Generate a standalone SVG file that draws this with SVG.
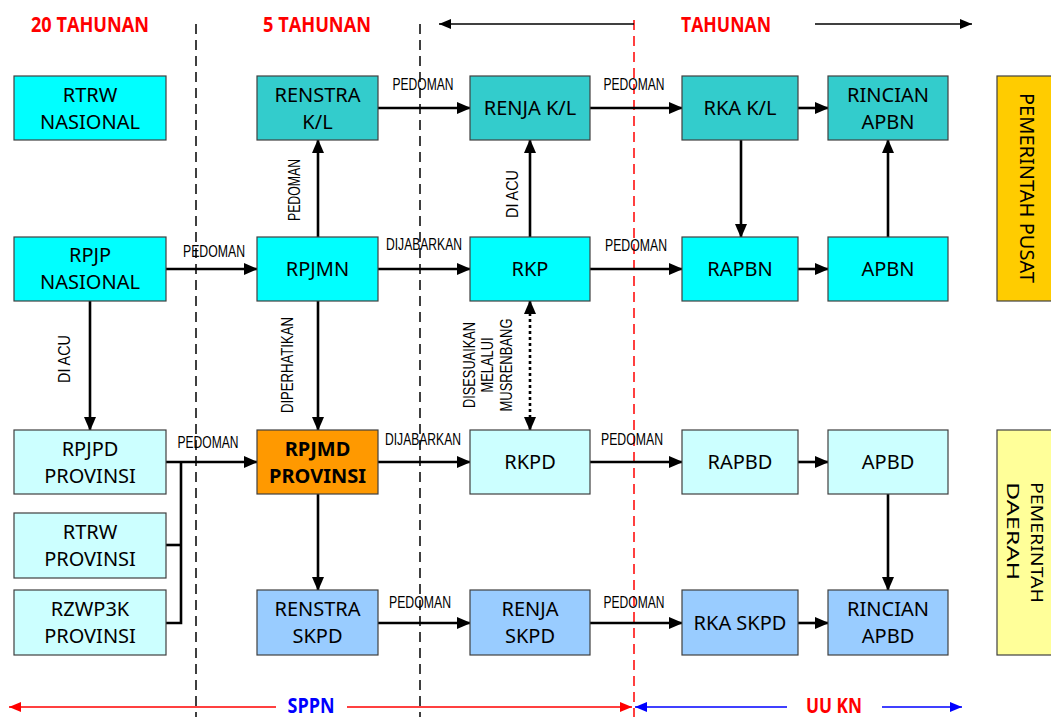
<svg xmlns="http://www.w3.org/2000/svg" width="1051" height="717" viewBox="0 0 1051 717">
<style>
.bx{stroke:#404040;stroke-width:1.2}
.c1{fill:#00FFFF}.c2{fill:#33CCCC}.c3{fill:#CCFFFF}.c4{fill:#FF9900}.c5{fill:#99CCFF}
.t{font-family:"Noto Sans","Open Sans",sans-serif;font-size:20px;fill:#000;text-anchor:middle}
.tb{font-weight:bold}
.lb{font-family:"Liberation Sans",Arial,sans-serif;font-size:16px;fill:#000;text-anchor:middle}
.hd{font-family:"Open Sans","Noto Sans",sans-serif;font-size:21px;font-weight:bold;text-anchor:middle}
.ar{stroke:#000;stroke-width:2.6;fill:none;marker-end:url(#ah)}
.ln{stroke:#000;stroke-width:2.6;fill:none}
.dl{stroke:#000;stroke-width:1.5;stroke-dasharray:10 6;fill:none}
</style>
<defs>
<marker id="ah" markerUnits="userSpaceOnUse" markerWidth="14" markerHeight="12" refX="13" refY="6" orient="auto-start-reverse"><path d="M0,0 L14,6 L0,12 z" fill="#000"/></marker>
<marker id="as" markerUnits="userSpaceOnUse" markerWidth="12" markerHeight="10" refX="12" refY="5" orient="auto-start-reverse"><path d="M0,0 L12,5 L0,10 z" fill="#000"/></marker>
<marker id="ar" markerUnits="userSpaceOnUse" markerWidth="12" markerHeight="10" refX="12" refY="5" orient="auto-start-reverse"><path d="M0,0 L12,5 L0,10 z" fill="#FF0000"/></marker>
<marker id="ab" markerUnits="userSpaceOnUse" markerWidth="12" markerHeight="10" refX="12" refY="5" orient="auto-start-reverse"><path d="M0,0 L12,5 L0,10 z" fill="#0000FF"/></marker>
</defs>
<rect width="1051" height="717" fill="#FFFFFF"/>

<g id="guides">
<line class="dl" x1="196" y1="24" x2="196" y2="717"/>
<line class="dl" x1="420" y1="24" x2="420" y2="717"/>
<line x1="634" y1="20" x2="634" y2="717" stroke="#FF0000" stroke-width="1.5" stroke-dasharray="10 6"/>
<line x1="634" y1="24" x2="439" y2="24" stroke="#000" stroke-width="1.5" marker-end="url(#as)"/>
<line x1="815" y1="24" x2="972" y2="24" stroke="#000" stroke-width="1.5" marker-end="url(#as)"/>
<line x1="276" y1="707" x2="9" y2="707" stroke="#FF0000" stroke-width="1.5" marker-end="url(#ar)"/>
<line x1="347" y1="707" x2="632" y2="707" stroke="#FF0000" stroke-width="1.5" marker-end="url(#ar)"/>
<line x1="787" y1="707" x2="635" y2="707" stroke="#0000FF" stroke-width="1.5" marker-end="url(#ab)"/>
<line x1="882" y1="707" x2="962" y2="707" stroke="#0000FF" stroke-width="1.5" marker-end="url(#ab)"/>
<text class="hd" x="90" y="32" fill="#FF0000" textLength="118" lengthAdjust="spacingAndGlyphs">20 TAHUNAN</text>
<text class="hd" x="317" y="32" fill="#FF0000" textLength="108" lengthAdjust="spacingAndGlyphs">5 TAHUNAN</text>
<text class="hd" x="726" y="32" fill="#FF0000" textLength="90" lengthAdjust="spacingAndGlyphs">TAHUNAN</text>
<text class="hd" x="311" y="713" fill="#0000FF" textLength="47" lengthAdjust="spacingAndGlyphs">SPPN</text>
<text class="hd" x="834" y="713" fill="#FF0000" textLength="56" lengthAdjust="spacingAndGlyphs">UU KN</text>
</g>

<g id="connectors">
<line class="ar" x1="378" y1="108" x2="470" y2="108"/>
<line class="ar" x1="590" y1="108" x2="682" y2="108"/>
<line class="ar" x1="798" y1="108" x2="828" y2="108"/>
<line class="ar" x1="318" y1="237" x2="318" y2="140"/>
<line class="ar" x1="530" y1="237" x2="530" y2="140"/>
<line class="ar" x1="741" y1="140" x2="741" y2="237"/>
<line class="ar" x1="888" y1="237" x2="888" y2="140"/>
<line class="ar" x1="166" y1="269" x2="257" y2="269"/>
<line class="ar" x1="378" y1="269" x2="470" y2="269"/>
<line class="ar" x1="590" y1="269" x2="682" y2="269"/>
<line class="ar" x1="798" y1="269" x2="828" y2="269"/>
<line class="ar" x1="90" y1="301" x2="90" y2="430"/>
<line class="ar" x1="318" y1="301" x2="318" y2="430"/>
<line x1="530" y1="301" x2="530" y2="430" stroke="#000" stroke-width="2.6" stroke-dasharray="3 3" marker-start="url(#ah)" marker-end="url(#ah)"/>
<polyline class="ln" points="166,545 181,545"/>
<polyline class="ln" points="166,623 181,623 181,462"/>
<line class="ar" x1="166" y1="462" x2="257" y2="462"/>
<line class="ar" x1="378" y1="462" x2="470" y2="462"/>
<line class="ar" x1="590" y1="462" x2="682" y2="462"/>
<line class="ar" x1="798" y1="462" x2="828" y2="462"/>
<line class="ar" x1="318" y1="494" x2="318" y2="590"/>
<line class="ar" x1="888" y1="494" x2="888" y2="590"/>
<line class="ar" x1="378" y1="623" x2="470" y2="623"/>
<line class="ar" x1="590" y1="623" x2="682" y2="623"/>
<line class="ar" x1="798" y1="623" x2="828" y2="623"/>
<text class="lb" x="423" y="90" textLength="61" lengthAdjust="spacingAndGlyphs">PEDOMAN</text>
<text class="lb" x="634" y="90" textLength="61" lengthAdjust="spacingAndGlyphs">PEDOMAN</text>
<text class="lb" x="214" y="257" textLength="62" lengthAdjust="spacingAndGlyphs">PEDOMAN</text>
<text class="lb" x="424" y="250" textLength="76" lengthAdjust="spacingAndGlyphs">DIJABARKAN</text>
<text class="lb" x="636" y="251" textLength="62" lengthAdjust="spacingAndGlyphs">PEDOMAN</text>
<text class="lb" x="208" y="448" textLength="61" lengthAdjust="spacingAndGlyphs">PEDOMAN</text>
<text class="lb" x="423" y="445" textLength="76" lengthAdjust="spacingAndGlyphs">DIJABARKAN</text>
<text class="lb" x="632" y="445" textLength="62" lengthAdjust="spacingAndGlyphs">PEDOMAN</text>
<text class="lb" x="420" y="608" textLength="62" lengthAdjust="spacingAndGlyphs">PEDOMAN</text>
<text class="lb" x="634" y="608" textLength="61" lengthAdjust="spacingAndGlyphs">PEDOMAN</text>
<text class="lb" transform="translate(300,190) rotate(-90)" textLength="62" lengthAdjust="spacingAndGlyphs">PEDOMAN</text>
<text class="lb" transform="translate(518,194) rotate(-90)" textLength="48" lengthAdjust="spacingAndGlyphs">DI ACU</text>
<text class="lb" transform="translate(70,359) rotate(-90)" textLength="48" lengthAdjust="spacingAndGlyphs">DI ACU</text>
<text class="lb" transform="translate(293,365) rotate(-90)" textLength="96" lengthAdjust="spacingAndGlyphs">DIPERHATIKAN</text>
<text class="lb" transform="translate(475,365) rotate(-90)" textLength="86" lengthAdjust="spacingAndGlyphs">DISESUAIKAN</text>
<text class="lb" transform="translate(493,365) rotate(-90)" textLength="55" lengthAdjust="spacingAndGlyphs">MELALUI</text>
<text class="lb" transform="translate(512,365) rotate(-90)" textLength="93" lengthAdjust="spacingAndGlyphs">MUSRENBANG</text>
</g>

<g id="rtrw-nasional"><rect class="bx c1" x="14" y="76" width="152" height="64"/><text class="t" x="90" y="102">RTRW</text><text class="t" x="90" y="129">NASIONAL</text></g>
<g id="renstra-kl"><rect class="bx c2" x="257" y="76" width="121" height="64"/><text class="t" x="317.5" y="102">RENSTRA</text><text class="t" x="317.5" y="129">K/L</text></g>
<g id="renja-kl"><rect class="bx c2" x="470" y="76" width="120" height="64"/><text class="t" x="530" y="115">RENJA K/L</text></g>
<g id="rka-kl"><rect class="bx c2" x="682" y="76" width="116" height="64"/><text class="t" x="740" y="115">RKA K/L</text></g>
<g id="rincian-apbn"><rect class="bx c2" x="828" y="76" width="120" height="64"/><text class="t" x="888" y="102">RINCIAN</text><text class="t" x="888" y="129">APBN</text></g>

<g id="rpjp-nasional"><rect class="bx c1" x="14" y="237" width="152" height="64"/><text class="t" x="90" y="262">RPJP</text><text class="t" x="90" y="289">NASIONAL</text></g>
<g id="rpjmn"><rect class="bx c1" x="257" y="237" width="121" height="64"/><text class="t" x="317.5" y="276">RPJMN</text></g>
<g id="rkp"><rect class="bx c1" x="470" y="237" width="120" height="64"/><text class="t" x="530" y="276">RKP</text></g>
<g id="rapbn"><rect class="bx c1" x="682" y="237" width="116" height="64"/><text class="t" x="740" y="276">RAPBN</text></g>
<g id="apbn"><rect class="bx c1" x="828" y="237" width="120" height="64"/><text class="t" x="888" y="276">APBN</text></g>

<g id="rpjpd-provinsi"><rect class="bx c3" x="14" y="430" width="152" height="64"/><text class="t" x="90" y="456">RPJPD</text><text class="t" x="90" y="483">PROVINSI</text></g>
<g id="rpjmd-provinsi"><rect class="bx c4" x="257" y="430" width="121" height="64"/><text class="t tb" x="317.5" y="456">RPJMD</text><text class="t tb" x="317.5" y="483">PROVINSI</text></g>
<g id="rkpd"><rect class="bx c3" x="470" y="430" width="120" height="64"/><text class="t" x="530" y="469">RKPD</text></g>
<g id="rapbd"><rect class="bx c3" x="682" y="430" width="116" height="64"/><text class="t" x="740" y="469">RAPBD</text></g>
<g id="apbd"><rect class="bx c3" x="828" y="430" width="120" height="64"/><text class="t" x="888" y="469">APBD</text></g>

<g id="rtrw-provinsi"><rect class="bx c3" x="14" y="513" width="152" height="65"/><text class="t" x="90" y="539">RTRW</text><text class="t" x="90" y="566">PROVINSI</text></g>
<g id="rzwp3k-provinsi"><rect class="bx c3" x="14" y="590" width="152" height="65"/><text class="t" x="90" y="616">RZWP3K</text><text class="t" x="90" y="643">PROVINSI</text></g>
<g id="renstra-skpd"><rect class="bx c5" x="257" y="590" width="121" height="65"/><text class="t" x="317.5" y="616">RENSTRA</text><text class="t" x="317.5" y="643">SKPD</text></g>
<g id="renja-skpd"><rect class="bx c5" x="470" y="590" width="120" height="65"/><text class="t" x="530" y="616">RENJA</text><text class="t" x="530" y="643">SKPD</text></g>
<g id="rka-skpd"><rect class="bx c5" x="682" y="590" width="116" height="65"/><text class="t" x="740" y="630">RKA SKPD</text></g>
<g id="rincian-apbd"><rect class="bx c5" x="828" y="590" width="120" height="65"/><text class="t" x="888" y="616">RINCIAN</text><text class="t" x="888" y="643">APBD</text></g>

<g id="pemerintah-pusat"><rect class="bx" fill="#FFCC00" x="997" y="76" width="60" height="225"/><text class="t" style="text-anchor:start" transform="translate(1020,93) rotate(90)" textLength="190" lengthAdjust="spacingAndGlyphs">PEMERINTAH PUSAT</text></g>
<g id="pemerintah-daerah"><rect class="bx" fill="#FFFF99" x="997" y="430" width="60" height="225"/><text class="t" style="text-anchor:start;font-size:17px" transform="translate(1031,482) rotate(90)" textLength="121" lengthAdjust="spacingAndGlyphs">PEMERINTAH</text><text class="t" style="text-anchor:start;font-size:17px" transform="translate(1007,482) rotate(90)" textLength="98" lengthAdjust="spacingAndGlyphs">DAERAH</text></g>
</svg>
